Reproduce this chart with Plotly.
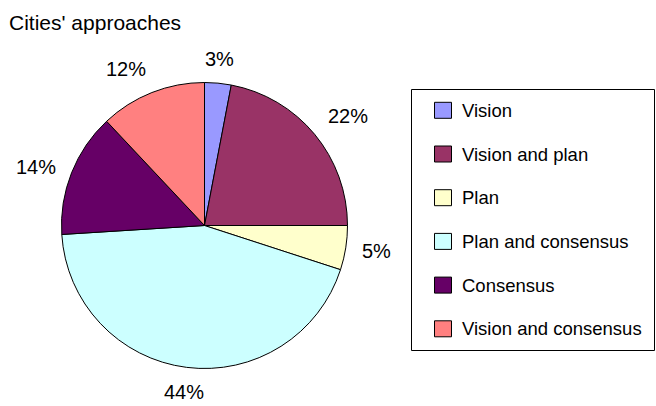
import math
import plotly.graph_objects as go

# ---- data ----
categories = ["Vision", "Vision and plan", "Plan", "Plan and consensus",
              "Consensus", "Vision and consensus"]
values = [3, 22, 5, 44, 14, 12]
colors = ["#9999FF", "#993366", "#FFFFCC", "#CCFFFF", "#660066", "#FF8080"]
title_text = "Cities' approaches"

# ---- layout constants (pixels) ----
W, H = 656, 406
CX, CY, R = 204.5, 225.5, 143.0
LABEL_FONT = 20
LEGEND_FONT = 18.5
FONT = "Liberation Sans, Arial, sans-serif"


def px(x):
    return x / W


def py(y):
    return 1 - y / H


fig = go.Figure()
fig.add_trace(go.Pie(
    labels=categories,
    values=values,
    sort=False,
    direction="clockwise",
    rotation=0,
    marker=dict(colors=colors, line=dict(color="#000000", width=1)),
    textinfo="none",
    hoverinfo="label+percent",
    showlegend=False,
    domain=dict(x=[px(CX - R), px(CX + R)], y=[py(CY + R), py(CY - R)]),
))

annotations = []
shapes = []

# percentage labels placed outside, derived from the data
CHAR_W = {"%": 0.889}
total = sum(values)
cum = 0.0
gap = 17
hh = 7.5
for v in values:
    frac = v / total
    a = (cum + frac / 2) * 2 * math.pi
    cum += frac
    ux, uy = math.sin(a), -math.cos(a)
    txt = f"{round(frac * 100)}%"
    wtxt = sum(CHAR_W.get(c, 0.556) for c in txt) * LABEL_FONT
    hw = wtxt / 2
    sx = (1 if ux > 0 else -1) if abs(ux) > 0.3 else 0
    sy = (1 if uy > 0 else -1) if abs(uy) > 0.6 else 0
    x = CX + (R + gap) * ux + sx * hw
    y = CY + (R + gap) * uy + sy * hh
    annotations.append(dict(
        x=px(x), y=py(y), xref="paper", yref="paper",
        text=txt, showarrow=False, xanchor="center", yanchor="middle",
        font=dict(size=LABEL_FONT, color="#000000", family=FONT),
    ))

# title
annotations.append(dict(
    x=px(7), y=py(22), xref="paper", yref="paper", text=title_text,
    showarrow=False, xanchor="left", yanchor="middle",
    font=dict(size=21, color="#000000", family=FONT),
))

# legend box
shapes.append(dict(type="rect", xref="paper", yref="paper",
                   x0=px(411.5), x1=px(654.5), y0=py(89.5), y1=py(350.5),
                   line=dict(color="#000000", width=1), fillcolor="rgba(0,0,0,0)"))
LEG_Y0, LEG_STEP = 110.3, 43.7
for i, (name, col) in enumerate(zip(categories, colors)):
    cy = LEG_Y0 + i * LEG_STEP
    shapes.append(dict(type="rect", xref="paper", yref="paper",
                       x0=px(434.5), x1=px(451.5), y0=py(cy - 8), y1=py(cy + 8),
                       line=dict(color="#000000", width=1), fillcolor=col))
    annotations.append(dict(
        x=px(460.3), y=py(cy), xref="paper", yref="paper", text=name,
        showarrow=False, xanchor="left", yanchor="middle",
        font=dict(size=LEGEND_FONT, color="#000000", family=FONT),
    ))

fig.update_layout(
    width=W, height=H,
    margin=dict(l=0, r=0, t=0, b=0),
    paper_bgcolor="#FFFFFF", plot_bgcolor="#FFFFFF",
    annotations=annotations, shapes=shapes,
    font=dict(family=FONT),
)

fig.write_html("out.html")
